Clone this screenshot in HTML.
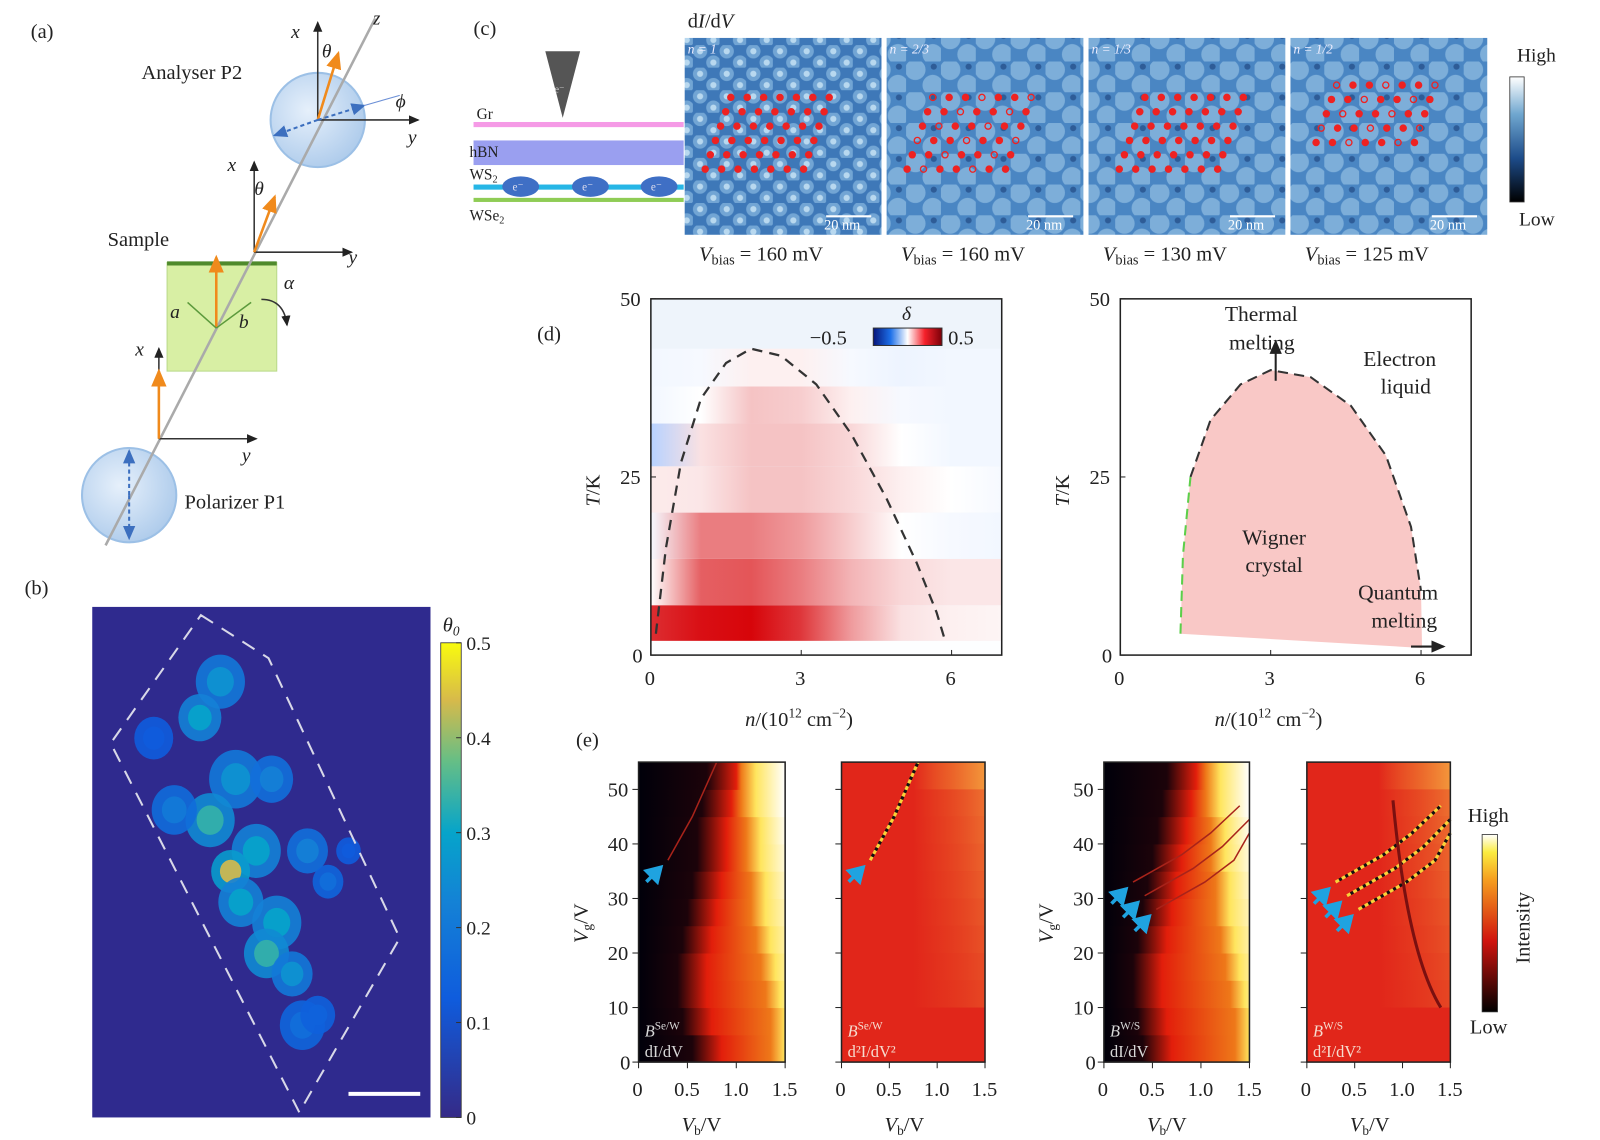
<!DOCTYPE html>
<html><head><meta charset="utf-8"><style>
html,body{margin:0;padding:0;background:#fff}
svg{display:block}
text{font-family:"Liberation Serif",serif}
</style></head><body>
<svg id="fig" width="1600" height="1140" viewBox="0 0 1561 1112" preserveAspectRatio="none" fill="#222" xmlns="http://www.w3.org/2000/svg">
<defs>
<radialGradient id="lens" cx="0.4" cy="0.4" r="0.7"><stop offset="0" stop-color="#e6f0fb"/><stop offset="1" stop-color="#a9c8ea"/></radialGradient>
<linearGradient id="parula" x1="0" y1="1" x2="0" y2="0"><stop offset="0" stop-color="#352a87"/><stop offset="0.25" stop-color="#0f5cdd"/><stop offset="0.45" stop-color="#1481d6"/><stop offset="0.6" stop-color="#06a4ca"/><stop offset="0.75" stop-color="#65be86"/><stop offset="0.88" stop-color="#d7ba4a"/><stop offset="1" stop-color="#f9fb0e"/></linearGradient>
<linearGradient id="bwr" x1="0" x2="1"><stop offset="0" stop-color="#06157a"/><stop offset="0.25" stop-color="#1c6fe8"/><stop offset="0.5" stop-color="#ffffff"/><stop offset="0.75" stop-color="#f5202a"/><stop offset="1" stop-color="#7a0008"/></linearGradient>
<linearGradient id="stmbar" x1="0" y1="1" x2="0" y2="0"><stop offset="0" stop-color="#000"/><stop offset="0.35" stop-color="#1d4c8a"/><stop offset="0.7" stop-color="#6fa6cf"/><stop offset="1" stop-color="#fff"/></linearGradient>
<linearGradient id="hotbar" x1="0" y1="1" x2="0" y2="0"><stop offset="0" stop-color="#000"/><stop offset="0.4" stop-color="#d0140e"/><stop offset="0.75" stop-color="#f6a020"/><stop offset="0.9" stop-color="#fbec40"/><stop offset="1" stop-color="#fff"/></linearGradient>
<linearGradient id="noiseGrad" x1="0" x2="1"><stop offset="0" stop-color="#f08030" stop-opacity="0"/><stop offset="0.5" stop-color="#f08030" stop-opacity="0.5"/><stop offset="1" stop-color="#f6a840" stop-opacity="0.8"/></linearGradient>
<pattern id="hex" width="26" height="22" patternUnits="userSpaceOnUse"><rect width="26" height="22" fill="#3e78b8"/><circle cx="7" cy="6" r="7" fill="#7fb0db" opacity="0.8"/><circle cx="20" cy="17" r="7" fill="#7fb0db" opacity="0.8"/><circle cx="7" cy="6" r="3" fill="#b8d8ef"/><circle cx="20" cy="17" r="3" fill="#b8d8ef"/></pattern>
<pattern id="blobs" width="34" height="30" patternUnits="userSpaceOnUse"><rect width="34" height="30" fill="#4a86c3"/><circle cx="9" cy="8" r="10" fill="#8dbbe0" opacity="0.75"/><circle cx="26" cy="23" r="10" fill="#8dbbe0" opacity="0.75"/><circle cx="27" cy="5" r="3" fill="#1b3f7a" opacity="0.6"/></pattern>
<marker id="ah" markerWidth="8" markerHeight="8" refX="6" refY="3" orient="auto"><path d="M0,0 L7,3 L0,6 z" fill="#222"/></marker>
<marker id="aho" markerWidth="8" markerHeight="8" refX="6" refY="3" orient="auto"><path d="M0,0 L7,3 L0,6 z" fill="#f08a1c"/></marker>
<marker id="ahb" markerWidth="8" markerHeight="8" refX="6" refY="3" orient="auto"><path d="M0,0 L7,3 L0,6 z" fill="#3c6fbf"/></marker>
<marker id="ahc" markerWidth="6" markerHeight="6" refX="4" refY="3" orient="auto"><path d="M0,0 L5,3 L0,6 z" fill="#1fa3e0"/></marker>
</defs>

<!-- (a) -->
<g>
<text x="30" y="37" font-size="20">(a)</text>
<circle cx="310" cy="117" r="46" fill="url(#lens)" stroke="#9cc0e6" stroke-width="2"/>
<circle cx="126" cy="483" r="46" fill="url(#lens)" stroke="#9cc0e6" stroke-width="2"/>
<polygon points="163,256 270,256 270,362 163,362" fill="#d8efa4" stroke="#b9d98a"/>
<line x1="163" y1="257" x2="270" y2="257" stroke="#4f8a2c" stroke-width="4"/>
<line x1="103" y1="532" x2="366" y2="18" stroke="#aaa" stroke-width="2.5"/>
<text x="364" y="24" font-size="18" font-style="italic">z</text>
<g stroke="#333" stroke-width="1.5" fill="none">
<line x1="310" y1="117" x2="310" y2="22" marker-end="url(#ah)"/><line x1="310" y1="117" x2="408" y2="117" marker-end="url(#ah)"/>
<line x1="248" y1="246" x2="248" y2="158" marker-end="url(#ah)"/><line x1="248" y1="246" x2="343" y2="246" marker-end="url(#ah)"/>
<line x1="155" y1="428" x2="155" y2="340" marker-end="url(#ah)"/><line x1="155" y1="428" x2="250" y2="428" marker-end="url(#ah)"/>
<path d="M255,292 q22,0 25,25" marker-end="url(#ah)"/>
</g>
<g stroke="#f08a1c" stroke-width="2.5">
<line x1="310" y1="117" x2="330" y2="52" marker-end="url(#aho)"/>
<line x1="248" y1="246" x2="268" y2="192" marker-end="url(#aho)"/>
<line x1="211" y1="320" x2="211" y2="251" marker-end="url(#aho)"/>
<line x1="155" y1="428" x2="155" y2="362" marker-end="url(#aho)"/>
</g>
<g stroke="#5c9a3c" stroke-width="1.5"><line x1="211" y1="320" x2="183" y2="295"/><line x1="211" y1="320" x2="245" y2="295"/></g>
<g stroke="#3c6fbf" stroke-width="2" stroke-dasharray="4,3">
<line x1="310" y1="117" x2="355" y2="103" marker-end="url(#ahb)"/><line x1="310" y1="117" x2="268" y2="132" marker-end="url(#ahb)"/>
<line x1="126" y1="483" x2="126" y2="440" marker-end="url(#ahb)"/><line x1="126" y1="483" x2="126" y2="525" marker-end="url(#ahb)"/>
</g>
<line x1="355" y1="103" x2="390" y2="93" stroke="#6b8fd6" stroke-width="1"/>
<g font-size="20"><text x="138" y="77">Analyser P2</text><text x="105" y="240">Sample</text><text x="180" y="496">Polarizer P1</text></g>
<g font-size="19" font-style="italic"><text x="284" y="37">x</text><text x="314" y="56">θ</text><text x="386" y="105">ϕ</text><text x="398" y="140">y</text>
<text x="222" y="167">x</text><text x="248" y="190">θ</text><text x="340" y="257">y</text><text x="277" y="282">α</text>
<text x="166" y="310">a</text><text x="233" y="320">b</text><text x="132" y="347">x</text><text x="236" y="450">y</text></g>
</g>

<!-- (b) -->
<g>
<text x="24" y="580" font-size="20">(b)</text>
<rect x="90" y="592" width="330" height="498" fill="#2f2a8e"/>
<g id="bcells"></g>
<polygon points="196,600 262,642 390,915 292,1085 108,725" fill="none" stroke="#d8d8e8" stroke-width="2" stroke-dasharray="14,10"/>
<line x1="340" y1="1067" x2="410" y2="1067" stroke="#fff" stroke-width="4"/>
<rect x="430" y="627" width="20" height="463" fill="url(#parula)" stroke="#333" stroke-width="0.8"/>
<text x="432" y="616" font-size="20" font-style="italic">θ<tspan font-size="13" dy="4">0</tspan></text>
<g id="bticks" font-size="19"></g>
</g>

<!-- (c) -->
<g>
<text x="462" y="34" font-size="20">(c)</text>
<polygon points="532,50 566,50 549,115" fill="#555"/>
<text x="541" y="90" font-size="10" fill="#ccc">e⁻</text>
<rect x="462" y="119" width="205" height="5" fill="#f59ae6"/>
<rect x="462" y="137" width="205" height="24" fill="#9a9ff0"/>
<rect x="462" y="180" width="205" height="5" fill="#26b6e6"/>
<rect x="462" y="193" width="205" height="4" fill="#8fcc55"/>
<g fill="#3f6fc5"><ellipse cx="508" cy="182" rx="18" ry="10"/><ellipse cx="576" cy="182" rx="18" ry="10"/><ellipse cx="643" cy="182" rx="18" ry="10"/></g>
<g font-size="11" fill="#dde"><text x="500" y="186">e⁻</text><text x="568" y="186">e⁻</text><text x="635" y="186">e⁻</text></g>
<g font-size="15"><text x="465" y="116">Gr</text><text x="458" y="153">hBN</text><text x="458" y="175">WS<tspan font-size="10" dy="3">2</tspan></text><text x="458" y="215">WSe<tspan font-size="10" dy="3">2</tspan></text></g>
<text x="671" y="27" font-size="20">d<tspan font-style="italic">I</tspan>/d<tspan font-style="italic">V</tspan></text>
<g id="stm"></g>
<rect x="1473" y="75" width="14" height="122" fill="url(#stmbar)" stroke="#333" stroke-width="0.8"/>
<text x="1480" y="60" font-size="19">High</text><text x="1482" y="220" font-size="19">Low</text>
</g>

<!-- (d) -->
<g>
<text x="524" y="332" font-size="20">(d)</text>
<g id="dleft"></g>
<g id="dright"></g>
</g>

<!-- (e) -->
<g>
<text x="562" y="728" font-size="20">(e)</text>
<g id="epanels"></g>
<rect x="1446" y="814" width="15" height="173" fill="url(#hotbar)" stroke="#333" stroke-width="0.8"/>
<text x="1432" y="802" font-size="20">High</text><text x="1434" y="1008" font-size="20">Low</text>
<text transform="translate(1492,940) rotate(-90)" font-size="20">Intensity</text>
</g>
</svg>
<script>
const NS="http://www.w3.org/2000/svg";
function mk(tag,attrs,parent){const e=document.createElementNS(NS,tag);for(const k in attrs)e.setAttribute(k,attrs[k]);parent.appendChild(e);return e;}

/* ---------- (b) data ---------- */
const bTickLabels=["0","0.1","0.2","0.3","0.4","0.5"];
const bTickValues=[0,0.1,0.2,0.3,0.4,0.5];
const bBlobX=[215,195,230,205,265,250,225,235,270,300,260,285,295,320,310,170,150,340];
const bBlobY=[665,700,760,800,760,830,850,880,900,830,930,950,1000,860,990,790,720,830];
const bBlobV=[0.25,0.3,0.25,0.35,0.2,0.3,0.45,0.3,0.3,0.2,0.35,0.25,0.15,0.15,0.12,0.18,0.1,0.1];
const bBlobR=[24,21,26,24,21,24,19,22,24,20,22,20,22,15,17,22,19,12];
{
 const g=document.getElementById('bcells');
 const cy=v=>1090-v/0.5*463;
 const parulaCol=v=>{const s=[[0,[53,42,135]],[0.1,[15,92,221]],[0.2,[20,129,214]],[0.3,[6,164,202]],[0.4,[101,190,134]],[0.45,[215,186,74]],[0.5,[249,251,14]]];
  for(let i=1;i<s.length;i++){if(v<=s[i][0]){const t=(v-s[i-1][0])/(s[i][0]-s[i-1][0]);const c=s[i-1][1].map((a,j)=>Math.round(a+(s[i][1][j]-a)*t));return `rgb(${c})`;}}return 'rgb(249,251,14)';};
 bBlobX.forEach((x,i)=>{const e=mk('ellipse',{cx:x,cy:bBlobY[i],rx:bBlobR[i],ry:bBlobR[i]*1.1,fill:parulaCol(bBlobV[i]*0.5+0.05),opacity:0.9},g);
  
  const c=mk('ellipse',{cx:x,cy:bBlobY[i],rx:bBlobR[i]*0.55,ry:bBlobR[i]*0.6,fill:parulaCol(bBlobV[i]),opacity:0.9},g);
  });
 const t=document.getElementById('bticks');
 bTickValues.forEach((v,i)=>{const y=cy(v);mk('line',{x1:445,y1:y,x2:450,y2:y,stroke:'#333'},t);
  const e=mk('text',{x:455,y:y+7},t);e.textContent=bTickLabels[i];
  });
}

/* ---------- (c) data ---------- */
const stmLabels=["n = 1","n = 2/3","n = 1/3","n = 1/2"];
const stmBias=["160","160","130","125"];
const stmLeft=[668,865,1062,1259];
const stmDotCols=[7,7,7,7];
const stmDotRows=[6,6,6,5];
{
 const g=document.getElementById('stm');
 stmLeft.forEach((x,i)=>{
  const r=mk('rect',{x:x,y:37,width:192,height:192,fill:i==0?'url(#hex)':'url(#blobs)'},g);
  
  const l=mk('text',{x:x+3,y:52,'font-size':13,'font-style':'italic',fill:'#eef'},g);l.textContent=stmLabels[i];
  
  for(let rr=0;rr<stmDotRows[i];rr++)for(let cc=0;cc<stmDotCols[i];cc++){
   const d=mk('circle',{cx:x+45+cc*16+rr*-5+ (i==2?10:0),cy:95+rr*14+(i==3?-12:0),r:3,fill:(i%2==1&&(cc+rr)%3==0)?'none':'#ee2222',stroke:'#ee2222','stroke-width':1.3},g);
   }
  mk('line',{x1:x+138,y1:211,x2:x+182,y2:211,stroke:'#fff','stroke-width':2},g);
  const s=mk('text',{x:x+136,y:224,'font-size':14,fill:'#fff'},g);s.textContent='20 nm';
  const b=mk('text',{x:x+14,y:254,'font-size':20},g);
  b.innerHTML='<tspan font-style="italic">V</tspan><tspan font-size="14" dy="4">bias</tspan><tspan dy="-4"> = '+stmBias[i]+' mV</tspan>';
  
 });
}

/* ---------- (d) data ---------- */
const dN=[0,1,2,3,4,5,6,7];
const dBandLo=[2,7,13.5,20,26.5,32.5,37.7];
const dBandHi=[7,13.5,20,26.5,32.5,37.7,43];
const dBand0=[0.42,0.48,0.5,0.4,0.2,0.06,0.03,0.02];
const dBand1=[0.0,0.32,0.34,0.26,0.15,0.08,0.05,0.05];
const dBand2=[-0.02,0.26,0.26,0.2,0.1,0.0,-0.02,-0.03];
const dBand3=[0.04,0.05,0.12,0.12,0.08,0.03,0.0,-0.02];
const dBand4=[-0.16,0.06,0.12,0.12,0.08,0.0,-0.03,-0.03];
const dBand5=[-0.03,0.0,0.12,0.1,0.03,-0.02,-0.03,-0.03];
const dBand6=[-0.03,-0.02,0.03,0.03,-0.02,-0.04,-0.03,-0.03];
const dBands=[dBand0,dBand1,dBand2,dBand3,dBand4,dBand5,dBand6];
const dCurveN=[0.1,0.3,0.6,1.0,1.5,2.0,2.6,3.3,4.0,4.7,5.3,5.7,5.85];
const dCurveT=[3,15,27,36,41,43,42,38,31,22,13,6,2.5];
const wcN=[1.2,1.25,1.4,1.8,2.4,3.0,3.8,4.6,5.3,5.8,6.0,6.02];
const wcT=[3,14,25,33,38,40,39,35,28,18,9,1];
const xTicksD=[0,3,6];
const yTicksD=[0,25,50];
function bwr(v){const t=Math.max(-1,Math.min(1,v/0.5));
 if(t>=0){const a=t;return `rgb(${Math.round(255-(255-215)*a)},${Math.round(255-250*a)},${Math.round(255-245*a)})`;}
 const a=-t;return `rgb(${Math.round(255-225*a)},${Math.round(255-140*a)},255)`;}
function dAxes(g,x0){
 const X=n=>x0+n*48.9, Y=T=>639-T*6.95;
 const f=mk('rect',{x:x0,y:Y(50),width:7*48.9,height:50*6.95,fill:'none',stroke:'#222','stroke-width':1.5},g);
 
 xTicksD.forEach(v=>{mk('line',{x1:X(v),y1:639,x2:X(v),y2:634,stroke:'#222'},g);
  const t=mk('text',{x:X(v)-6,y:668,'font-size':20},g);t.textContent=v;
  });
 yTicksD.forEach(v=>{mk('line',{x1:x0,y1:Y(v),x2:x0+5,y2:Y(v),stroke:'#222'},g);
  const t=mk('text',{x:x0-(v<10?18:30),y:Y(v)+7,'font-size':20},g);t.textContent=v;
  });
 const xl=mk('text',{x:x0+92,y:708,'font-size':20},g);
 xl.innerHTML='<tspan font-style="italic">n</tspan>/(10<tspan font-size="13" dy="-8">12</tspan><tspan dy="8"> cm</tspan><tspan font-size="13" dy="-8">−2</tspan><tspan dy="8">)</tspan>';
 
 const yl=mk('text',{transform:`translate(${x0-50},494) rotate(-90)`,'font-size':20},g);
 yl.innerHTML='<tspan font-style="italic">T</tspan>/K';
 
}
{
 const g=document.getElementById('dleft');const x0=635;
 const X=n=>x0+n*48.9, Y=T=>639-T*6.95;
 mk('rect',{x:x0,y:Y(50),width:7*48.9,height:50*6.95,fill:'#eef4fb'},g);
 mk('rect',{x:x0,y:Y(2),width:7*48.9,height:Y(0)-Y(2),fill:'#fdfeff'},g);
 const defs=document.querySelector('defs');
 dBands.forEach((row,i)=>{
  const gid='band'+i;const lg=mk('linearGradient',{id:gid,x1:0,x2:1},defs);
  row.forEach((v,j)=>mk('stop',{offset:dN[j]/7,'stop-color':bwr(v)},lg));
  const r=mk('rect',{x:x0,y:Y(dBandHi[i]),width:7*48.9,height:Y(dBandLo[i])-Y(dBandHi[i]),fill:`url(#${gid})`},g);
  
 });
 const p=mk('path',{d:'M'+dCurveN.map((n,i)=>X(n)+','+Y(dCurveT[i])).join(' L'),fill:'none',stroke:'#333','stroke-width':2.2,'stroke-dasharray':'10,7'},g);
 
 const cb=mk('rect',{x:852,y:320,width:67,height:17,fill:'url(#bwr)',stroke:'#333'},g);
 
 const a=mk('text',{x:790,y:336,'font-size':20},g);a.textContent='−0.5';
 const b=mk('text',{x:925,y:336,'font-size':20},g);b.textContent='0.5';
 const d=mk('text',{x:880,y:312,'font-size':19,'font-style':'italic'},g);d.textContent='δ';
 dAxes(g,x0);
}
{
 const g=document.getElementById('dright');const x0=1093;
 const X=n=>x0+n*48.9, Y=T=>639-T*6.95;
 const pts=wcN.map((n,i)=>X(n)+','+Y(wcT[i])).join(' ');
 const poly=mk('polygon',{points:pts+' '+X(1.2)+','+Y(3),fill:'#f9c8c6'},g);
 
 const top=mk('path',{d:'M'+wcN.slice(2,11).map((n,i)=>X(n)+','+Y(wcT[i+2])).join(' L'),fill:'none',stroke:'#333','stroke-width':2,'stroke-dasharray':'10,6'},g);
 
 const gr=mk('path',{d:'M'+wcN.slice(0,3).map((n,i)=>X(n)+','+Y(wcT[i])).join(' L'),fill:'none',stroke:'#5ccf4a','stroke-width':2,'stroke-dasharray':'10,6'},g);
 
 mk('line',{x1:X(3.1),y1:Y(38.5),x2:X(3.1),y2:Y(44),stroke:'#222','stroke-width':2,'marker-end':'url(#ah)'},g);
 mk('line',{x1:X(5.8),y1:Y(1.2),x2:X(6.45),y2:Y(1.2),stroke:'#222','stroke-width':2,'marker-end':'url(#ah)'},g);
 const labs=[["Thermal",1195,313],["melting",1199,341],["Electron",1330,357],["liquid",1347,384],["Wigner",1212,531],["crystal",1215,558],["Quantum",1325,585],["melting",1338,612]];
 labs.forEach(l=>{const t=mk('text',{x:l[1],y:l[2],'font-size':21},g);t.textContent=l[0];
  });
 dAxes(g,x0);
}

/* ---------- (e) data ---------- */
const eVg=[0,5,10,15,20,25,30,35,40,45,50,55];
const eDarkEdge=[0.55,0.45,0.4,0.4,0.45,0.5,0.55,0.6,0.6,0.65,0.7,0.75];
const eBrightEdge=[1.5,1.5,1.45,1.4,1.35,1.3,1.3,1.25,1.25,1.2,1.2,1.2];
const eDarkEdge3=[0.4,0.35,0.3,0.3,0.35,0.4,0.45,0.5,0.55,0.6,0.65,0.7];
const eLineVb1=[0.3,0.55,0.8];const eLineVg1=[37,45,55];
const eLineVb3=[0.3,0.8,1.1,1.4];const eLineVg3=[33,38,42,47];
const eXTicks=[0,0.5,1.0,1.5];const eXTickLabels=["0","0.5","1.0","1.5"];
const eYTicks=[0,10,20,30,40,50];
const eLeft=[623,821,1077,1275];
const eW=[143,140,142,140];
const eTags=[["Se/W","dI/dV"],["Se/W","d²I/dV²"],["W/S","dI/dV"],["W/S","d²I/dV²"]];
function hot(t){t=Math.max(0,Math.min(1,t));
 if(t<0.4)return `rgb(${Math.round(t/0.4*225)},${Math.round(t/0.4*20)},10)`;
 if(t<0.8){const a=(t-0.4)/0.4;return `rgb(${Math.round(225+25*a)},${Math.round(20+200*a)},${Math.round(10+30*a)})`;}
 const a=(t-0.8)/0.2;return `rgb(255,${Math.round(220+35*a)},${Math.round(40+215*a)})`;}
{
 const g=document.getElementById('epanels');const defs=document.querySelector('defs');
 eLeft.forEach((x0,p)=>{
  const w=eW[p];const X=v=>x0+v/1.5*w, Y=v=>1036-v*5.32;
  const bg=mk('g',{},g);
  if(p==0||p==2){
   const de=p==0?eDarkEdge:eDarkEdge3;
   eVg.forEach((vg,i)=>{const gid=`er${p}_${i}`;const lg=mk('linearGradient',{id:gid,x1:0,x2:1},defs);
    mk('stop',{offset:0,'stop-color':hot(0)},lg);
    mk('stop',{offset:de[i]/1.5,'stop-color':hot(0.05)},lg);
    mk('stop',{offset:Math.min(1,(de[i]+0.3)/1.5),'stop-color':hot(0.42)},lg);
    mk('stop',{offset:Math.min(1,eBrightEdge[i]/1.5-0.1),'stop-color':hot(0.6)},lg);
    mk('stop',{offset:Math.min(1,eBrightEdge[i]/1.5),'stop-color':hot(0.85)},lg);
    mk('stop',{offset:1,'stop-color':hot(0.85+vg/300)},lg);
    const top=Math.min(55,vg+5);
    const r=mk('rect',{x:x0,y:Y(top),width:w,height:Y(vg)-Y(top)+0.5,fill:`url(#${gid})`},bg);
    });
  } else {
   mk('rect',{x:x0,y:Y(55),width:w,height:Y(0)-Y(55),fill:'#e1261a'},bg);
   eVg.forEach((vg,i)=>{if(vg<10)return;const r=mk('rect',{x:X(0.75),y:Y(Math.min(55,vg+5)),width:X(1.5)-X(0.75),height:5.32*5,fill:'url(#noiseGrad)',opacity:0.2+vg/90},bg);
    });
  }
  const lvb=p<2?eLineVb1:eLineVb3, lvg=p<2?eLineVg1:eLineVg3;
  const nL=p<2?1:3;
  for(let k=0;k<nL;k++){
   const dv=k*0.12;
   const d='M'+lvb.map((v,i)=>X(Math.min(1.5,v+dv))+','+Y(lvg[i]-k*2.5)).join(' L');
   const l=mk('path',{d:d,fill:'none',stroke:(p%2==0)?'#a8231a':'#f7d23a','stroke-width':(p%2==0)?1.5:3,'stroke-dasharray':(p%2==0)?'':'4,3'},g);
   
   if(p%2==1){mk('path',{d:d,fill:'none',stroke:'#111','stroke-width':3,'stroke-dasharray':'3,4','stroke-dashoffset':3},g);}
   const ax=X(lvb[0]+dv)-4, ay=Y(lvg[0]-k*2.5)+4;
   const ar=mk('line',{x1:ax-17,y1:ay+17,x2:ax-3,y2:ay+3,stroke:'#1fa3e0','stroke-width':3.5,'marker-end':'url(#ahc)'},g);
   
  }
  if(p==3){const c=mk('path',{d:`M${X(0.9)},${Y(48)} Q${X(1.05)},${Y(20)} ${X(1.4)},${Y(10)}`,fill:'none',stroke:'#7a1010','stroke-width':3},g);
   }
  const fr=mk('rect',{x:x0,y:Y(55),width:w,height:Y(0)-Y(55),fill:'none',stroke:'#222','stroke-width':1.5},g);
  
  eXTicks.forEach((v,i)=>{mk('line',{x1:X(v),y1:1036,x2:X(v),y2:1042,stroke:'#222'},g);
   const t=mk('text',{x:X(v)-(i==0?6:13),y:1069,'font-size':20},g);t.textContent=eXTickLabels[i];
   });
  eYTicks.forEach(v=>{mk('line',{x1:x0-6,y1:Y(v),x2:x0,y2:Y(v),stroke:'#222'},g);
   if(p==0||p==2){const t=mk('text',{x:x0-(v<10?18:30),y:Y(v)+7,'font-size':20},g);t.textContent=v;
    }});
  const xl=mk('text',{x:x0+42,y:1103,'font-size':20},g);
  xl.innerHTML='<tspan font-style="italic">V</tspan><tspan font-size="13" dy="4">b</tspan><tspan dy="-4">/V</tspan>';
  
  if(p==0||p==2){const yl=mk('text',{transform:`translate(${x0-50},${920}) rotate(-90)`,'font-size':20},g);
   yl.innerHTML='<tspan font-style="italic">V</tspan><tspan font-size="13" dy="4">g</tspan><tspan dy="-4">/V</tspan>';
   }
  const tc=(p%2==0)?'#d8d8d8':'#f6dccf';
  const t1=mk('text',{x:x0+6,y:1011,'font-size':16,fill:tc},g);
  t1.innerHTML='<tspan font-style="italic">B</tspan><tspan font-size="11" dy="-7">'+eTags[p][0]+'</tspan>';
  const t2=mk('text',{x:x0+6,y:1031,'font-size':16,fill:tc},g);t2.textContent=eTags[p][1];
  
 });
}
</script>
</body></html>
